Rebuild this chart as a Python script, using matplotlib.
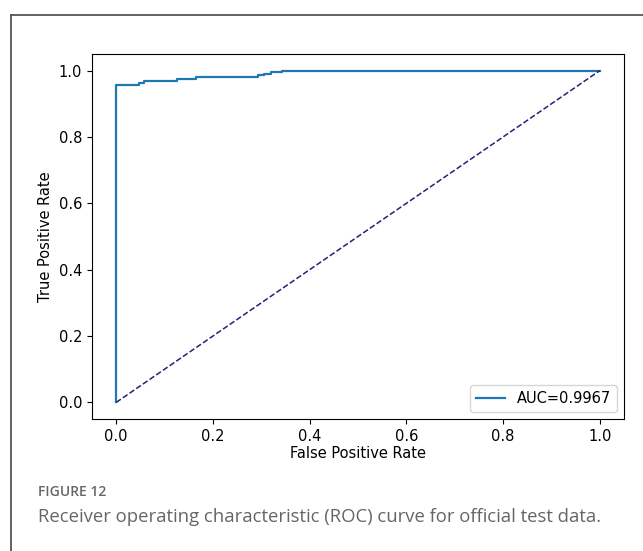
import numpy as np
import matplotlib.pyplot as plt
from matplotlib.lines import Line2D

plt.rcParams['font.family'] = 'DejaVu Sans'

# ROC points
fpr = [0.0, 0.0, 0.048, 0.058, 0.126, 0.165, 0.294, 0.305, 0.320, 0.343, 1.0]
tpr = [0.0, 0.958, 0.962, 0.970, 0.974, 0.981, 0.986, 0.990, 0.995, 1.0, 1.0]
auc_label = 'AUC=0.9967'
chance = [0.0, 1.0]
caption_head = 'FIGURE 12'
caption_text = 'Receiver operating characteristic (ROC) curve for official test data.'

fig = plt.figure(figsize=(6.43, 5.51), dpi=100)

# page frame (left + top edges only)
W, H = 643, 551
fig.add_artist(Line2D([11/W, 11/W], [0, 1 - 15/H], color='#555555', lw=1.3))
fig.add_artist(Line2D([11/W, 1], [1 - 15/H, 1 - 15/H], color='#555555', lw=1.3))

ax = fig.add_axes([92/W, 1 - 419/H, 532/W, 365/H])
ax.plot(fpr, tpr, drawstyle='steps-post', color='#1f77b4', lw=1.6, label=auc_label)
ax.plot(chance, chance, color='#22227a', linestyle='--', lw=1.1)
ax.set_xlabel('False Positive Rate', fontsize=10.5, labelpad=2)
ax.set_ylabel('True Positive Rate', fontsize=10.5)
ax.tick_params(labelsize=10.5)
ax.legend(loc='lower right', fontsize=10.5)

fig.text(38/W, 1 - 492/H, caption_head, fontsize=10, color='#666666',
         family='Open Sans', fontweight='semibold', va='center')
fig.text(38/W, 1 - 517/H, caption_text, fontsize=13.3, color='#666666',
         family='Open Sans', va='center')

fig.savefig('out.png', dpi=100)
